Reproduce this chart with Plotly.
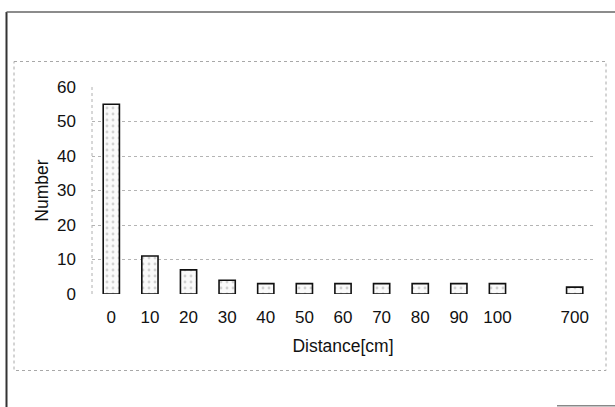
import plotly.graph_objects as go

# Data
distance_labels = ["0", "10", "20", "30", "40", "50", "60", "70", "80", "90", "100", " ", "700"]
counts = [55, 11, 7, 4, 3, 3, 3, 3, 3, 3, 3, None, 2]
y_ticks = [0, 10, 20, 30, 40, 50, 60]

FONT = "Liberation Sans, Arial, sans-serif"

fig = go.Figure()
fig.add_trace(go.Bar(
    x=distance_labels,
    y=counts,
    marker=dict(
        color="#f8f8f8",
        line=dict(color="#111111", width=1.6),
        pattern=dict(shape=".", fgcolor="#a8a8a8", bgcolor="#fafafa", size=6, solidity=0.18),
    ),
    showlegend=False,
))

W, H = 615, 407
L, R, T, B = 92, 21, 87, 113
pw, ph = W - L - R, H - T - B

def px(x):
    return (x - L) / pw

def py(y):
    return (H - B - y) / ph

shapes = [
    # outer scan frame
    dict(type="line", xref="paper", yref="paper", x0=px(6.5), x1=px(6.5), y0=py(12), y1=py(407),
         line=dict(color="#333333", width=2)),
    dict(type="line", xref="paper", yref="paper", x0=px(6.5), x1=px(615), y0=py(12), y1=py(12),
         line=dict(color="#666666", width=1.5)),
    dict(type="line", xref="paper", yref="paper", x0=px(557), x1=px(615), y0=py(405.7), y1=py(405.7),
         line=dict(color="#888888", width=1.5)),
    # dotted chart-area box
    dict(type="rect", xref="paper", yref="paper", x0=px(14), x1=px(606), y0=py(61.5), y1=py(370.5),
         line=dict(color="#a8a8a8", width=1, dash="dot")),
    # dotted y axis line
    dict(type="line", xref="paper", yref="paper", x0=0, x1=0, y0=0, y1=1,
         line=dict(color="#b0b0b0", width=1, dash="dot")),
]

fig.update_layout(
    width=W, height=H,
    margin=dict(l=L, r=R, t=T, b=B, autoexpand=False),
    paper_bgcolor="white",
    plot_bgcolor="white",
    bargap=0.58,
    font=dict(family=FONT, size=17, color="#111111"),
    shapes=shapes,
    xaxis=dict(
        type="category",
        categoryorder="array",
        categoryarray=distance_labels,
        showgrid=False,
        showline=False,
        zeroline=False,
        ticks="",
        ticklabelstandoff=11,
        tickfont=dict(family=FONT, size=17, color="#111111"),
        title=dict(text="Distance[cm]", font=dict(family=FONT, size=17.5, color="#111111"), standoff=13),
        automargin=False,
    ),
    yaxis=dict(
        range=[0, 60],
        tickvals=y_ticks,
        showgrid=True,
        gridcolor="#b4b4b4",
        griddash="dot",
        gridwidth=1,
        zeroline=False,
        showline=False,
        ticks="",
        ticklabelstandoff=15,
        tickfont=dict(family=FONT, size=17, color="#111111"),
        title=dict(text="Number", font=dict(family=FONT, size=17.5, color="#111111"), standoff=3),
        automargin=False,
    ),
)

fig.write_html("out.html", config={"displayModeBar": False},
               post_script="document.body.style.margin='0px';")
